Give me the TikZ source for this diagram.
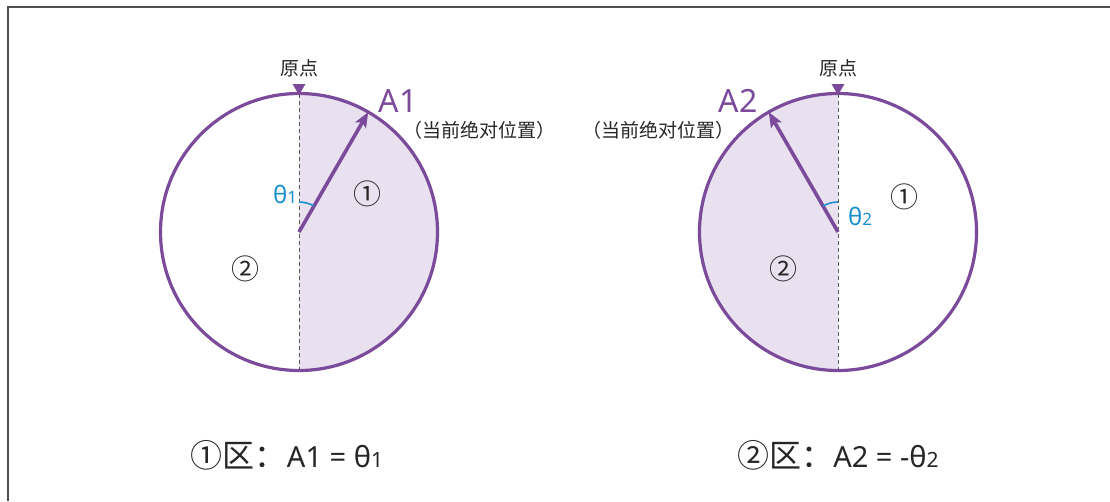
\documentclass[tikz,border=0pt]{standalone}
\usepackage{fontspec}
\setmainfont{Noto Sans}
\newfontfamily\cjk{Noto Sans CJK SC}
\usetikzlibrary{arrows.meta}
\definecolor{pur}{HTML}{7B4A9B}
\definecolor{lpur}{HTML}{E9E1EF}
\definecolor{tblue}{HTML}{1A8FD0}
\definecolor{framec}{HTML}{505050}
\begin{document}
\begin{tikzpicture}[x=1pt,y=-1pt,
  ring/.style={draw=pur,line width=3.2pt},
  axisline/.style={draw=gray!70!black,line width=1pt,dash pattern=on 4pt off 3pt},
  vec/.style={draw=pur,line width=3.6pt,-{Stealth[length=15pt,width=12pt,inset=3pt]}},
  anglearc/.style={draw=tblue,line width=1.6pt},
  lbl/.style={inner sep=0pt,font=\cjk\fontsize{19}{21}\selectfont,text=black!85},
  albl/.style={inner sep=0pt,font=\fontsize{32}{35}\selectfont,text=pur},
  tlbl/.style={inner sep=0pt,font=\fontsize{24}{26}\selectfont,text=tblue},
  zlbl/.style={inner sep=0pt,font=\cjk\fontsize{28}{30}\selectfont,text=black!85},
  formula/.style={inner sep=0pt,font=\fontsize{29}{33}\selectfont,text=black!85},
  originmark/.style={fill=pur}]
\useasboundingbox (0,0) rectangle (1110,501);
\fill[white] (0,0) rectangle (1110,501);
\draw[framec,line width=2pt] (8,501) |- (1110,7);

% ---------- circle 1 ----------
\coordinate (c1) at (299,232);
\coordinate (t1) at (299,93.5);
\coordinate (b1) at (299,370.5);
\coordinate (a1) at (368.25,112.1);
\begin{scope}
  \clip (299,80) rectangle (450,385);
  \fill[lpur] (c1) circle[radius=138.5];
\end{scope}
\draw[axisline] (t1) -- (b1);
\draw[ring] (c1) circle[radius=138.5];
\draw[vec] (c1) -- (a1);
\draw[anglearc] (299,202) arc[start angle=-90,end angle=-60,radius=30];
\fill[originmark] (292.5,84) -- (305.5,84) -- (299,95) -- cycle;
\node[lbl] (o1) at (299,68) {原点};
\node[albl] (A1) at (398,101) {A1};
\node[lbl] (p1) at (479,130) {（当前绝对位置）};
\node[tlbl] (th1) at (285,194) {θ{\fontsize{17}{18}\selectfont 1}};
\node[zlbl] (z11) at (367,194) {①};
\node[zlbl] (z12) at (245,269) {②};

% ---------- circle 2 ----------
\coordinate (c2) at (838,232);
\coordinate (t2) at (838,93.5);
\coordinate (b2) at (838,370.5);
\coordinate (a2) at (768.75,112.1);
\begin{scope}
  \clip (690,80) rectangle (838,385);
  \fill[lpur] (c2) circle[radius=138.5];
\end{scope}
\draw[axisline] (t2) -- (b2);
\draw[ring] (c2) circle[radius=138.5];
\draw[vec] (c2) -- (a2);
\draw[anglearc] (838,202) arc[start angle=-90,end angle=-120,radius=30];
\fill[originmark] (831.5,84) -- (844.5,84) -- (838,95) -- cycle;
\node[lbl] (o2) at (838,68) {原点};
\node[albl] (A2) at (738,101) {A2};
\node[lbl] (p2) at (658,130) {（当前绝对位置）};
\node[tlbl] (th2) at (860,216) {θ{\fontsize{17}{18}\selectfont 2}};
\node[zlbl] (z21) at (904,197) {①};
\node[zlbl] (z22) at (783,269) {②};

% ---------- formulas ----------
\node[formula] (f1) at (287,455) {{\cjk\fontsize{32}{34}\selectfont ①区：}A1 = θ{\fontsize{21}{22}\selectfont 1}};
\node[formula] (f2) at (838,455) {{\cjk\fontsize{32}{34}\selectfont ②区：}A2 = -θ{\fontsize{21}{22}\selectfont 2}};
\end{tikzpicture}
\end{document}
